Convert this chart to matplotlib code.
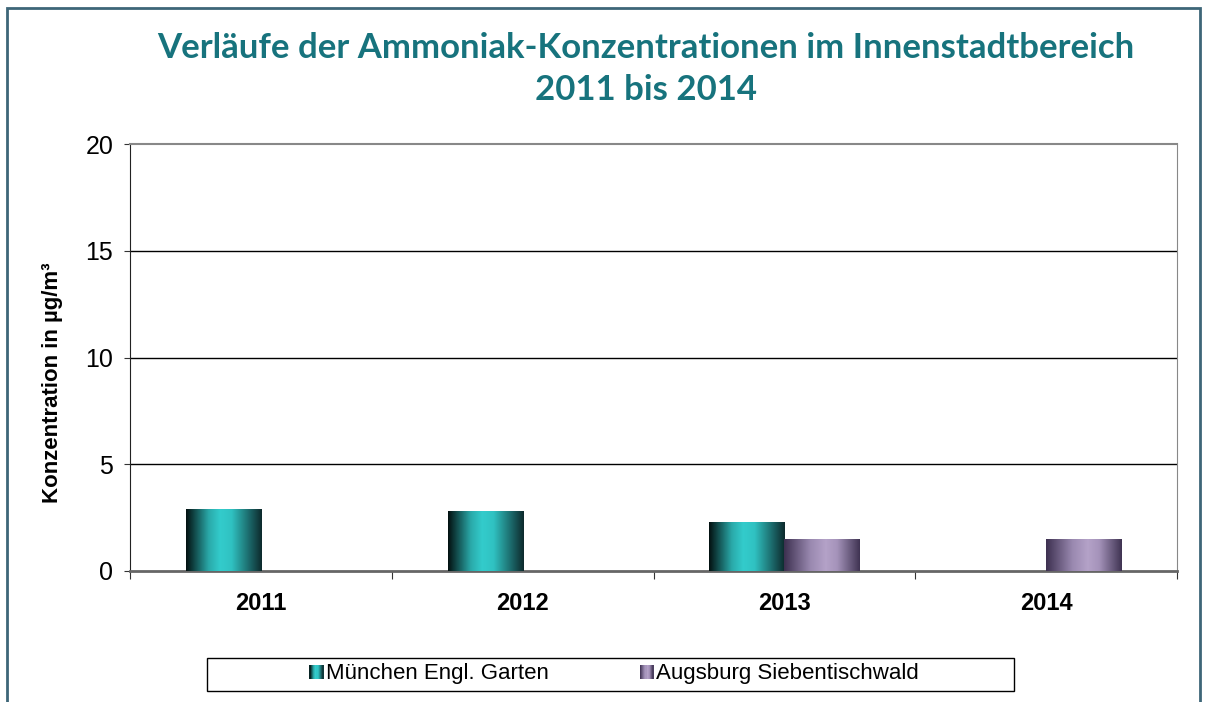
import numpy as np
import matplotlib
matplotlib.use("Agg")
import matplotlib.pyplot as plt
from matplotlib.colors import LinearSegmentedColormap
from matplotlib.patches import Rectangle
from matplotlib.legend_handler import HandlerBase

years = ["2011", "2012", "2013", "2014"]
muenchen = [2.9, 2.8, 2.3, 0.0]
augsburg = [0.0, 0.0, 1.5, 1.5]
series_names = ["München Engl. Garten", "Augsburg Siebentischwald"]
y_ticks = [0, 5, 10, 15, 20]

title_color = "#17737d"
cmap_m = LinearSegmentedColormap.from_list(
    "m", [(0, "#031010"), (0.3, "#2aa9a9"), (0.45, "#33cccc"), (0.6, "#30c2c2"), (1, "#0d2a2c")])
cmap_a = LinearSegmentedColormap.from_list(
    "a", [(0, "#3d3050"), (0.35, "#9a89b0"), (0.55, "#b4a2c8"), (0.7, "#a593ba"), (1, "#3f3352")])


class GradientHandler(HandlerBase):
    """ Legend key drawn as a small horizontal gradient. """
    def __init__(self, cmap):
        super().__init__()
        self.cmap = cmap

    def create_artists(self, legend, orig_handle, xdescent, ydescent,
                       width, height, fontsize, trans):
        n = 12
        parts = []
        for i in range(n):
            parts.append(Rectangle((-xdescent + width * i / n, -ydescent), width / n + 0.3, height,
                                   facecolor=self.cmap((i + 0.5) / n), edgecolor="none",
                                   transform=trans))
        return parts


plt.rcParams['font.family'] = ['Liberation Sans', 'DejaVu Sans']

fig = plt.figure(figsize=(12.08, 7.02), dpi=100)
ax = fig.add_axes([130 / 1208, 131 / 702, 1047 / 1208, 427 / 702])

# figure frame
fig.patches.append(Rectangle((7 / 1208, -0.01), 1193 / 1208, 1 - 8 / 702 + 0.01,
                             transform=fig.transFigure, fill=False,
                             edgecolor="#3d6678", linewidth=2))

x = np.arange(len(years))
w = 0.287
bars_m = ax.bar(x - w / 2, muenchen, w, color="#33cccc", label=series_names[0], zorder=3)
bars_a = ax.bar(x + w / 2, augsburg, w, color="#b4a2c8", label=series_names[1], zorder=3)

grad = np.linspace(0, 1, 256).reshape(1, -1)
for bars, cm in ((bars_m, cmap_m), (bars_a, cmap_a)):
    for b in bars:
        if b.get_height() <= 0:
            continue
        x0, y0 = b.get_x(), b.get_y()
        im = ax.imshow(grad, cmap=cm, aspect="auto", zorder=4,
                       extent=(x0, x0 + b.get_width(), y0, y0 + b.get_height()))
        im.set_clip_path(b)

ax.set_xlim(-0.5, len(years) - 0.5)
ax.set_ylim(0, 20)
ax.set_yticks(y_ticks)
ax.set_yticklabels([str(t) for t in y_ticks], fontsize=18)
ax.set_xticks(np.arange(len(years) + 1) - 0.5, minor=False)
ax.set_xticklabels([])
ax.set_xticks(x, minor=True)
ax.set_xticklabels(years, minor=True, fontsize=17, fontweight="bold")
ax.tick_params(axis="x", which="minor", length=0, pad=15)
ax.tick_params(axis="x", which="major", length=6, color="#333333", direction="out")
ax.tick_params(axis="y", length=4, color="#333333", pad=8)

for t in y_ticks[1:4]:
    ax.axhline(t, color="black", linewidth=1, zorder=1)
ax.spines["top"].set_color("#888888")
ax.spines["right"].set_color("#888888")
ax.spines["left"].set_color("#222222")
ax.spines["bottom"].set_color("#666666")
ax.spines["bottom"].set_linewidth(2)
ax.spines["top"].set_linewidth(1.5)

ax.set_ylabel("Konzentration in µg/m³", fontsize=16, fontweight="bold")
ax.yaxis.set_label_coords(-0.064, 0.44)

fig.text(0.535, 0.902, "Verläufe der Ammoniak-Konzentrationen im Innenstadtbereich\n2011 bis 2014",
         ha="center", va="center", color=title_color, fontsize=25, fontweight="bold",
         family=["Lato", "DejaVu Sans"], linespacing=1.4)

# legend box
fig.patches.append(Rectangle((207 / 1208, 1 - 691 / 702), 807 / 1208, 33 / 702,
                             transform=fig.transFigure, fill=False,
                             edgecolor="black", linewidth=1))
leg = fig.legend(handles=[bars_m, bars_a], labels=series_names,
                 loc="center", bbox_to_anchor=(614 / 1208, 1 - 674 / 702), ncol=2,
                 fontsize=16, frameon=False,
                 handler_map={bars_m: GradientHandler(cmap_m), bars_a: GradientHandler(cmap_a)},
                 handlelength=0.63, handleheight=0.6, handletextpad=0.1,
                 columnspacing=4.1)

fig.savefig("out.png", dpi=100)
